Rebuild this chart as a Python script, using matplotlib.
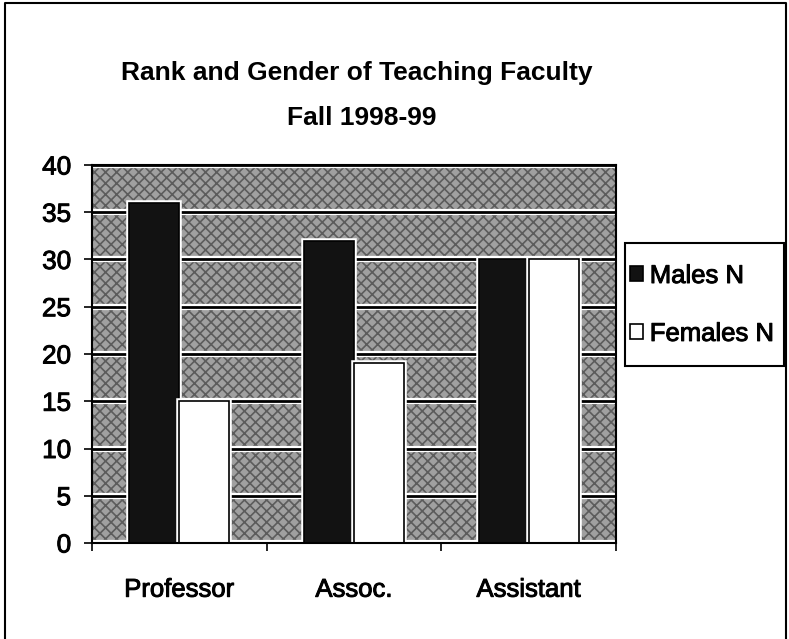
import matplotlib
matplotlib.use("Agg")
import matplotlib.pyplot as plt
from matplotlib.patches import Rectangle
from matplotlib.lines import Line2D
import matplotlib.patheffects as pe
import numpy as np

categories = ["Professor", "Assoc.", "Assistant"]
males_n = [36, 32, 30]
females_n = [15, 19, 30]
series_names = ["Males N", "Females N"]
title_lines = ["Rank and Gender of Teaching Faculty", "Fall 1998-99"]
y_ticks = [0, 5, 10, 15, 20, 25, 30, 35, 40]

plt.rcParams['font.family'] = ['Liberation Sans', 'DejaVu Sans']
plt.rcParams['hatch.linewidth'] = 1.2

W, H = 789, 639
fig = plt.figure(figsize=(W/100, H/100), dpi=100)
ax = fig.add_axes([92/W, 96/H, 524/W, 378/H])

heavy = [pe.withStroke(linewidth=0.7, foreground='black')]

# textured gray background
ax.patch.set_facecolor('#a0a0a0')
bg = Rectangle((0, 0), 1, 1, transform=ax.transAxes, facecolor='#a0a0a0',
               edgecolor='#5c5c5c', hatch='xxx', linewidth=0, zorder=0)
ax.add_patch(bg)

x = np.arange(len(categories))
w = 0.2857
halo = [pe.Stroke(linewidth=4, foreground='white'), pe.Normal()]
b1 = ax.bar(x - w/2, males_n, width=w, color='#121212', edgecolor='black',
            linewidth=1.2, zorder=3, label=series_names[0])
b2 = ax.bar(x + w/2, females_n, width=w, color='white', edgecolor='black',
            linewidth=1.2, zorder=3, label=series_names[1])
for p in list(b1) + list(b2):
    p.set_path_effects(halo)

ax.set_xlim(-0.5, len(categories) - 0.5)
ax.set_ylim(0, 40)
ax.set_yticks(y_ticks)
ax.set_yticklabels([str(v) for v in y_ticks], fontsize=18.8)
for v in y_ticks:
    ax.axhline(v, color='white', linewidth=4.5, zorder=1)
    ax.axhline(v, color='black', linewidth=2, zorder=1.5)

ax.set_xticks(np.arange(len(categories) + 1) - 0.5)
ax.set_xticklabels([])
ax.set_xticks(x, minor=True)
ax.set_xticklabels(categories, minor=True, fontsize=18.5)
ax.tick_params(axis='x', which='minor', length=0, pad=25)
ax.tick_params(axis='x', which='major', length=6, width=1.2, direction='out')
ax.tick_params(axis='y', which='major', length=6, width=1.2, direction='out', pad=9)
for t in ax.get_yticklabels() + ax.get_xticklabels(minor=True):
    t.set_path_effects(heavy)

for s in ax.spines.values():
    s.set_color('black')
    s.set_linewidth(1.5)
    s.set_zorder(4)

fig.text(357/W, 1 - 73/H, title_lines[0], ha='center', va='center',
         fontsize=19, fontweight='bold')
fig.text(362/W, 1 - 118/H, title_lines[1], ha='center', va='center',
         fontsize=19, fontweight='bold')

# legend (frame drawn separately to match the tight Excel box)
leg = fig.legend(loc='upper left', bbox_to_anchor=(630/W, 1 - 264/H),
                 fontsize=18.5, frameon=False, handlelength=0.52,
                 handleheight=0.52, handletextpad=0.25, labelspacing=1.32,
                 borderpad=0, borderaxespad=0)
for h in leg.legend_handles:
    h.set_path_effects([])
for t in leg.get_texts():
    t.set_path_effects(heavy)
fig.patches.append(Rectangle((625/W, 1 - 366/H), 159/W, 123/H,
                             transform=fig.transFigure, fill=False,
                             edgecolor='black', linewidth=1.5))

# outer border (left, top, right)
fig.lines.append(Line2D([5/W, 5/W, 786/W, 786/W], [0, 1 - 3/H, 1 - 3/H, 0],
                        transform=fig.transFigure, color='black', linewidth=1.5))

fig.savefig("out.png", dpi=100)
